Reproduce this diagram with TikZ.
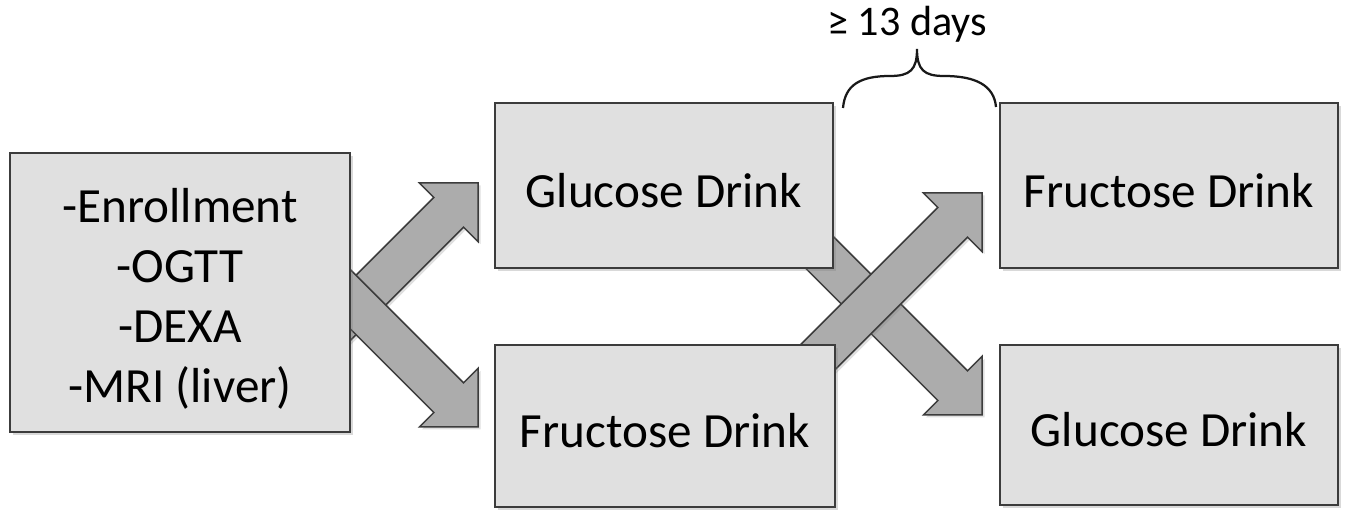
\documentclass[tikz,border=0pt]{standalone}
\usepackage{fontspec}
\setmainfont{Carlito}
\usetikzlibrary{calc,shadows,backgrounds}

\definecolor{boxgray}{RGB}{224,224,224}
\definecolor{arrowgray}{RGB}{172,172,172}
\definecolor{edgegray}{RGB}{60,60,60}

\tikzset{
	drinkbox/.style={draw=edgegray, fill=boxgray, line width=0.4mm, inner sep=0pt, align=center,
		text height=0.88cm, text depth=0cm,
		font=\fontsize{28}{34}\selectfont,
		drop shadow={shadow xshift=0.06cm, shadow yshift=-0.06cm, opacity=0.3}},
	fatarrowstyle/.style={draw=edgegray, fill=arrowgray, line width=0.3mm, line join=miter,
		drop shadow={shadow xshift=0.05cm, shadow yshift=-0.05cm, opacity=0.25}},
	bracestyle/.style={line width=0.45mm, color=black!90}
}

% block arrow from tail #1 to tip #2
\newcommand{\fatarrow}[2]{%
	\coordinate (fa-b) at ($(#2)!0.83cm!(#1)$);
	\draw[fatarrowstyle] ($(#1)!0.42cm!90:(#2)$) -- ($(fa-b)!0.42cm!90:(#2)$) -- ($(fa-b)!0.83cm!90:(#2)$) -- (#2)
		-- ($(fa-b)!0.83cm!-90:(#2)$) -- ($(fa-b)!0.42cm!-90:(#2)$) -- ($(#1)!0.42cm!-90:(#2)$) -- cycle;}

\begin{document}
\begin{tikzpicture}
		%%%%% START %%%%%
		\useasboundingbox (0, 0) rectangle (26.94, 10.2);
		
		\node[drinkbox, text height=, text depth=, minimum width=6.8cm, minimum height=5.58cm] (enroll) at (3.6, 4.35)
			{\rule{0pt}{1.1cm}-Enrollment\\-OGTT\\-DEXA\\-MRI (liver)\rule[-0.3cm]{0pt}{0.3cm}};
		
		\node[drinkbox, minimum width=6.76cm, minimum height=3.3cm] (glu1) at (13.28, 6.49) {Glucose Drink};
		\node[drinkbox, minimum width=6.8cm, minimum height=3.24cm] (fru1) at (13.3, 1.68) {Fructose Drink};
		
		\node[drinkbox, minimum width=6.76cm, minimum height=3.3cm] (fru2) at (23.38, 6.49) {Fructose Drink};
		\node[drinkbox, minimum width=6.76cm, minimum height=3.2cm] (glu2) at (23.38, 1.7) {Glucose Drink};
		
		\coordinate (t1) at ($(glu1.west)+(-0.32, 0.05)$);
		\coordinate (s1) at ($(t1)+(-2.98, -2.98)$);
		\coordinate (t2) at ($(fru1.west)+(-0.32, -0.02)$);
		\coordinate (s2) at ($(t2)+(-2.98, 2.98)$);
		\coordinate (t3) at ($(glu2.west)+(-0.34, 0.2)$);
		\coordinate (s3) at ($(t3)+(-3.66, 3.66)$);
		\coordinate (t4) at ($(fru2.west)+(-0.34, -0.15)$);
		\coordinate (s4) at ($(t4)+(-3.66, -3.66)$);
		
		\begin{pgfonlayer}{background}
			\fatarrow{s1}{t1}
			\fatarrow{s2}{t2}
			\fatarrow{s3}{t3}
			\fatarrow{s4}{t4}
		\end{pgfonlayer}
		
		\draw[bracestyle] (16.86, 8.04) .. controls (16.9, 8.5) and (17.2, 8.68) .. (17.8, 8.68)
			.. controls (18.2, 8.68) and (18.34, 8.8) .. (18.34, 9.22)
			.. controls (18.34, 8.8) and (18.48, 8.68) .. (18.88, 8.68)
			.. controls (19.5, 8.68) and (19.88, 8.5) .. (19.92, 8.06);
		
		\node[font=\fontsize{24}{29}\selectfont] (gap) at (18.14, 9.72) {≥ 13 days};
		
		%%%%% END %%%%%
\end{tikzpicture}
\end{document}
